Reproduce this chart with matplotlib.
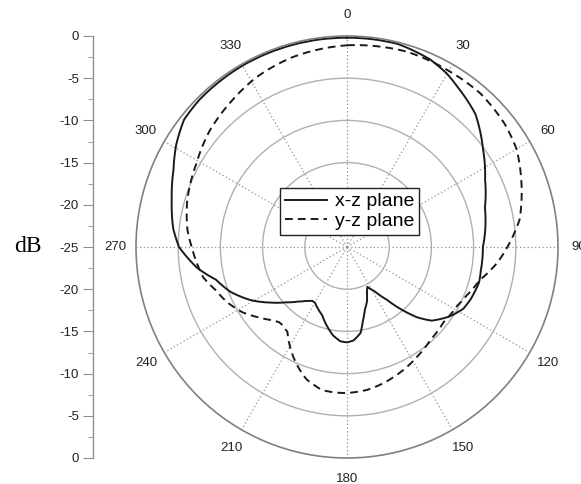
import numpy as np
import matplotlib.pyplot as plt

# x-z plane cut: angle (deg) and normalised gain (dB)
xz_angle = [0, 14, 24, 30, 35, 44, 54, 64, 74, 83, 90, 100, 105, 113, 118, 122,
            125, 131, 135, 139, 143, 148, 153, 156, 160, 164, 168, 171, 176, 180,
            184, 189, 194, 200, 206, 210, 213, 217, 222, 228, 234, 241, 249, 256,
            262, 270, 276, 285, 294, 301, 308, 315, 330, 345, 360]
xz_gain = [-0.2, -0.2, -0.7, -1.3, -2.0, -3.1, -5.1, -6.8, -8.0, -8.5, -8.9, -8.9,
           -8.8, -9.1, -9.4, -10.0, -10.5, -11.7, -13.2, -15.2, -17.2, -18.8,
           -19.7, -19.2, -18.1, -17.3, -16.0, -14.7, -13.9, -13.7, -13.8, -14.4,
           -15.3, -16.4, -17.0, -17.4, -17.4, -17.0, -16.3, -15.2, -13.8, -12.0,
           -10.2, -9.0, -7.1, -5.1, -4.3, -3.5, -2.5, -1.4, -0.5, -0.3, -0.2,
           -0.2, -0.2]

# y-z plane cut
yz_angle = [0, 17, 30, 41, 52, 60, 70, 81, 90, 96, 104, 112, 118, 128, 138, 147,
            155, 165, 172, 180, 185, 190, 197, 201, 206, 211, 215, 219, 222, 225,
            231, 238, 245, 252, 258, 270, 276, 286, 299, 310, 321, 332, 344, 360]
yz_gain = [-1.1, -0.8, -0.9, -0.9, -1.3, -1.8, -3.0, -4.3, -6.0, -7.1, -8.8, -9.7,
           -10.2, -10.5, -10.2, -9.6, -9.0, -8.3, -7.9, -7.7, -7.7, -7.8, -8.6,
           -9.4, -10.5, -11.7, -12.7, -13.0, -13.0, -12.7, -11.7, -10.4, -9.4,
           -8.6, -7.6, -6.6, -6.0, -5.3, -4.6, -3.7, -3.0, -2.2, -1.6, -1.1]

angle_labels = list(range(0, 360, 30))
ring_levels = [-20, -15, -10, -5]
r_min, r_max = -25, 0

W, H = 581, 484
fig = plt.figure(figsize=(W / 100, H / 100), dpi=100)
plt.rcParams['font.family'] = ['Liberation Sans', 'DejaVu Sans']

# polar pattern, centre (347, 247), radius 211 px
cx, cy, R = 347, 247, 211
ax = fig.add_axes([(cx - R) / W, (H - cy - R) / H, 2 * R / W, 2 * R / H],
                  projection='polar')
ax.set_theta_zero_location('N')
ax.set_theta_direction(-1)
ax.set_rlim(r_min, r_max)

lines = ax.plot(np.radians(xz_angle), xz_gain, color='#1a1a1a', lw=1.4,
                label='x-z plane')
lines += ax.plot(np.radians(yz_angle), yz_gain, color='#1a1a1a', lw=1.4,
                 linestyle=(0, (4, 2.6)), label='y-z plane')
# draw each segment as an arc in polar space instead of a straight chord
for ln in lines:
    ln.get_path()._interpolation_steps = 16

ax.set_yticks(ring_levels)
ax.set_yticklabels([])
ax.yaxis.grid(True, color='#b0b0b0', linestyle='-', lw=1.0)
ax.set_xticks(np.radians(angle_labels))
ax.set_xticklabels([])
ax.set_xticks(np.radians(np.arange(15, 360, 30)), minor=True)
ax.xaxis.grid(True, color='#909090', linestyle=(0, (1, 2)), lw=0.9)
ax.tick_params(axis='x', which='major', direction='in', length=7, width=1,
               color='#777777')
ax.tick_params(axis='x', which='minor', direction='in', length=4, width=1,
               color='#777777')
ax.spines['polar'].set_color('#808080')
ax.spines['polar'].set_linewidth(1.2)

# angle labels sit on a circle just outside the rim
for a in angle_labels:
    ax.text(np.radians(a), 2.5, str(a), fontsize=9.5, color='#222222',
            ha='center', va='center', clip_on=False)

ax.legend(loc='center', bbox_to_anchor=(349.5 / W, 1 - 211.5 / H),
          bbox_transform=fig.transFigure, fontsize=14, frameon=True,
          fancybox=False, edgecolor='#222222', framealpha=1,
          handlelength=2.2, handletextpad=0.4, borderpad=0.25,
          labelspacing=0.12)
ax.get_legend().get_frame().set_linewidth(1.0)

# dB scale on the left: 0 at the rim, -25 at the centre, 0 again at the bottom
sx = 93
sax = fig.add_axes([sx / W, (H - cy - R) / H, 0.001, 2 * R / H])
sax.set_ylim(-25, 25)
sax.set_xticks([])
for side in ['top', 'right', 'bottom']:
    sax.spines[side].set_visible(False)
sax.spines['left'].set_color('#909090')
sax.spines['left'].set_linewidth(1.0)
ticks = np.arange(-25, 26, 5)
sax.set_yticks(ticks)
sax.set_yticklabels([str(abs(t) - 25) for t in ticks], fontsize=9.5, color='#222222')
sax.set_yticks(np.arange(-22.5, 25, 5), minor=True)
sax.tick_params(axis='y', which='major', length=7, color='#909090', pad=3)
sax.tick_params(axis='y', which='minor', length=3.5, color='#909090')
sax.patch.set_visible(False)

fig.text(28 / W, 1 - cy / H, 'dB', family='Liberation Serif', fontsize=17,
         ha='center', va='center')

fig.savefig('out.png', dpi=100)
